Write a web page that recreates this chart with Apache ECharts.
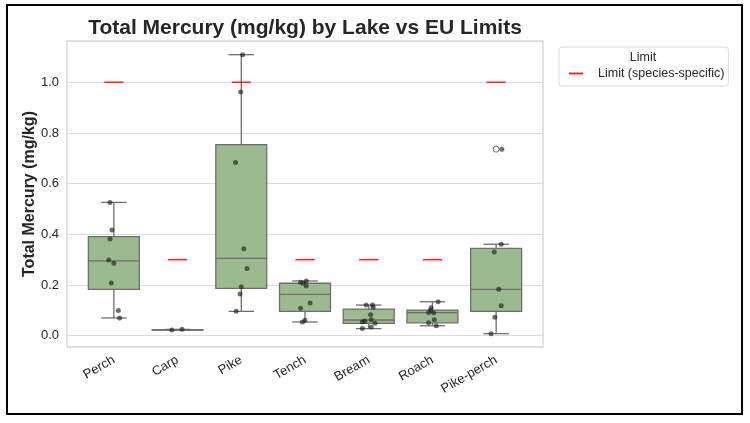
<!DOCTYPE html>
<html>
<head>
<meta charset="utf-8">
<script src="https://cdn.jsdelivr.net/npm/echarts@6/dist/echarts.min.js"></script>
<style>
  html, body { margin: 0; padding: 0; background: #fff; }
  #chart { width: 750px; height: 423px; }
</style>
</head>
<body>
<div id="chart"></div>
<script>
var categories = ["Perch", "Carp", "Pike", "Tench", "Bream", "Roach", "Pike-perch"];
var limits = [1.0, 0.3, 1.0, 0.3, 0.3, 0.3, 1.0];

// whisker low, Q1, median, Q3, whisker high
var boxStats = [
    [0.070, 0.183, 0.295, 0.391, 0.526],
    [0.022, 0.0225, 0.0235, 0.0243, 0.025],
    [0.096, 0.187, 0.305, 0.754, 1.109],
    [0.054, 0.096, 0.163, 0.207, 0.216],
    [0.028, 0.049, 0.062, 0.105, 0.121],
    [0.039, 0.051, 0.091, 0.101, 0.134],
    [0.008, 0.096, 0.183, 0.345, 0.361]
];
var outliers = [[6, 0.736]];

// measured samples per lake and their strip jitter (category units)
var samples = [
    [0.526, 0.417, 0.382, 0.299, 0.286, 0.208, 0.099, 0.070],
    [0.022, 0.025],
    [1.109, 0.962, 0.684, 0.343, 0.265, 0.193, 0.165, 0.096],
    [0.211, 0.207, 0.216, 0.196, 0.129, 0.108, 0.061, 0.054],
    [0.121, 0.121, 0.112, 0.083, 0.058, 0.054, 0.063, 0.049, 0.034, 0.028],
    [0.134, 0.110, 0.101, 0.092, 0.091, 0.063, 0.051, 0.039],
    [0.361, 0.330, 0.183, 0.118, 0.073, 0.008, 0.736]
];
var jitter = [
    [-0.06, -0.03, -0.06, -0.08, 0, -0.04, 0.07, 0.09],
    [-0.09, 0.07],
    [0.02, -0.01, -0.09, 0.04, 0.09, 0, -0.02, -0.08],
    [-0.07, -0.03, 0.02, 0.02, 0.08, -0.07, 0, -0.04],
    [-0.04, 0.06, 0.07, 0.03, -0.06, -0.1, 0.04, 0.1, 0.04, -0.1],
    [0.09, -0.02, -0.03, -0.06, 0.02, 0.03, -0.06, 0.06],
    [0.08, -0.03, 0.04, 0.08, -0.02, -0.08, 0.09]
];

var yMin = -0.0446, yMax = 1.163;
var font = "'Liberation Sans', Arial, sans-serif";
var ink = "#262626";

var boxData = boxStats.map(function (s, i) { return [i].concat(s); });
var limitData = limits.map(function (v, i) { return [i, v]; });
var pointData = [];
samples.forEach(function (list, i) {
    list.forEach(function (v, j) {
        pointData.push([i + jitter[i][j], v]);
    });
});

var chart = echarts.init(document.getElementById("chart"));

var option = {
    animation: false,
    backgroundColor: "#fff",
    textStyle: { fontFamily: font },
    graphic: [
        {
            type: "rect",
            shape: { x: 7, y: 5, width: 735, height: 409 },
            style: { fill: null, stroke: "#000", lineWidth: 2 },
            silent: true
        },
        {
            type: "text",
            style: {
                text: "Total Mercury (mg/kg) by Lake vs EU Limits",
                x: 305, y: 28,
                textAlign: "center", textVerticalAlign: "middle",
                font: "bold 21px " + font,
                fill: ink
            }
        },
        {
            type: "text",
            style: {
                text: "Limit",
                x: 643, y: 58,
                textAlign: "center", textVerticalAlign: "middle",
                font: "12.5px " + font,
                fill: ink
            },
            z: 100
        }
    ],
    legend: {
        left: 559,
        top: 47,
        padding: [20, 4, 6, 10],
        backgroundColor: "#fff",
        borderColor: "#dcdcdc",
        borderWidth: 1,
        borderRadius: 3,
        itemWidth: 14,
        itemHeight: 2,
        textStyle: { fontSize: 12.5, color: ink, padding: [0, 0, 0, 10] },
        data: [{ name: "Limit (species-specific)", icon: "rect", itemStyle: { color: "rgba(255,0,0,0.85)" } }]
    },
    grid: [
        {
            left: 67, top: 41, width: 476, height: 306,
            show: true, borderColor: "#d9d9d9", borderWidth: 1.5, backgroundColor: "#fff"
        },
        { left: 82, top: 41, width: 446, height: 306 }
    ],
    xAxis: [
        { gridIndex: 0, type: "value", min: 0, max: 1, show: false },
        {
            gridIndex: 1, type: "category", data: categories, position: "bottom",
            axisLine: { show: false }, axisTick: { show: false }, splitLine: { show: false },
            axisLabel: { rotate: 30, margin: 12, fontSize: 13, color: ink, interval: 0 }
        },
        { gridIndex: 1, type: "value", min: -0.5, max: 6.5, show: false }
    ],
    yAxis: [
        {
            gridIndex: 0, type: "value", min: yMin, max: yMax,
            axisLine: { show: false }, axisTick: { show: false },
            splitLine: { lineStyle: { color: "#dcdcdc", width: 1 } },
            axisLabel: {
                fontSize: 13, color: ink, margin: 8,
                showMinLabel: false, showMaxLabel: false,
                formatter: function (v) {
                    var r = Math.round(v * 5);
                    if (Math.abs(v * 5 - r) > 1e-6) return "";
                    return v.toFixed(1);
                }
            },
            name: "Total Mercury (mg/kg)",
            nameLocation: "middle",
            nameGap: 29,
            nameMoveOverlap: false,
            nameTextStyle: { fontSize: 16, fontWeight: "bold", color: ink }
        },
        { gridIndex: 1, type: "value", min: yMin, max: yMax, show: false }
    ],
    series: [
        {
            name: "boxes",
            type: "custom",
            xAxisIndex: 2,
            yAxisIndex: 1,
            z: 2,
            encode: { x: 0, y: [1, 2, 3, 4, 5] },
            data: boxData,
            renderItem: function (params, api) {
                var i = api.value(0);
                var lo = api.coord([i, api.value(1)]);
                var q1 = api.coord([i, api.value(2)]);
                var med = api.coord([i, api.value(3)]);
                var q3 = api.coord([i, api.value(4)]);
                var hi = api.coord([i, api.value(5)]);
                var half = api.size([0.4, 0])[0];
                var cap = api.size([0.2, 0])[0];
                var x = lo[0];
                var edge = { stroke: "#6e6e6e", lineWidth: 1.3 };
                return {
                    type: "group",
                    children: [
                        { type: "line", shape: { x1: x, y1: lo[1], x2: x, y2: q1[1] }, style: edge },
                        { type: "line", shape: { x1: x, y1: q3[1], x2: x, y2: hi[1] }, style: edge },
                        { type: "line", shape: { x1: x - cap, y1: lo[1], x2: x + cap, y2: lo[1] }, style: edge },
                        { type: "line", shape: { x1: x - cap, y1: hi[1], x2: x + cap, y2: hi[1] }, style: edge },
                        {
                            type: "rect",
                            shape: { x: x - half, y: q3[1], width: half * 2, height: q1[1] - q3[1] },
                            style: { fill: "#9bbb8f", stroke: "#6e6e6e", lineWidth: 1.3 }
                        },
                        { type: "line", shape: { x1: x - half, y1: med[1], x2: x + half, y2: med[1] }, style: edge }
                    ]
                };
            }
        },
        {
            name: "Limit (species-specific)",
            type: "custom",
            xAxisIndex: 2,
            yAxisIndex: 1,
            z: 3,
            itemStyle: { color: "rgba(255,0,0,0.85)" },
            encode: { x: 0, y: 1 },
            data: limitData,
            renderItem: function (params, api) {
                var i = api.value(0);
                var a = api.coord([i - 0.15, api.value(1)]);
                var b = api.coord([i + 0.15, api.value(1)]);
                return {
                    type: "line",
                    shape: { x1: a[0], y1: a[1], x2: b[0], y2: b[1] },
                    style: { stroke: "rgba(255,0,0,0.85)", lineWidth: 1.6 }
                };
            }
        },
        {
            name: "outliers",
            type: "scatter",
            xAxisIndex: 2,
            yAxisIndex: 1,
            z: 4,
            symbolSize: 6,
            itemStyle: { color: "#fff", borderColor: "#4a4a4a", borderWidth: 1 },
            data: outliers
        },
        {
            name: "samples",
            type: "scatter",
            xAxisIndex: 2,
            yAxisIndex: 1,
            z: 5,
            symbolSize: 5,
            itemStyle: { color: "rgba(30,30,30,0.8)" },
            data: pointData
        }
    ]
};

chart.setOption(option);
</script>
</body>
</html>
